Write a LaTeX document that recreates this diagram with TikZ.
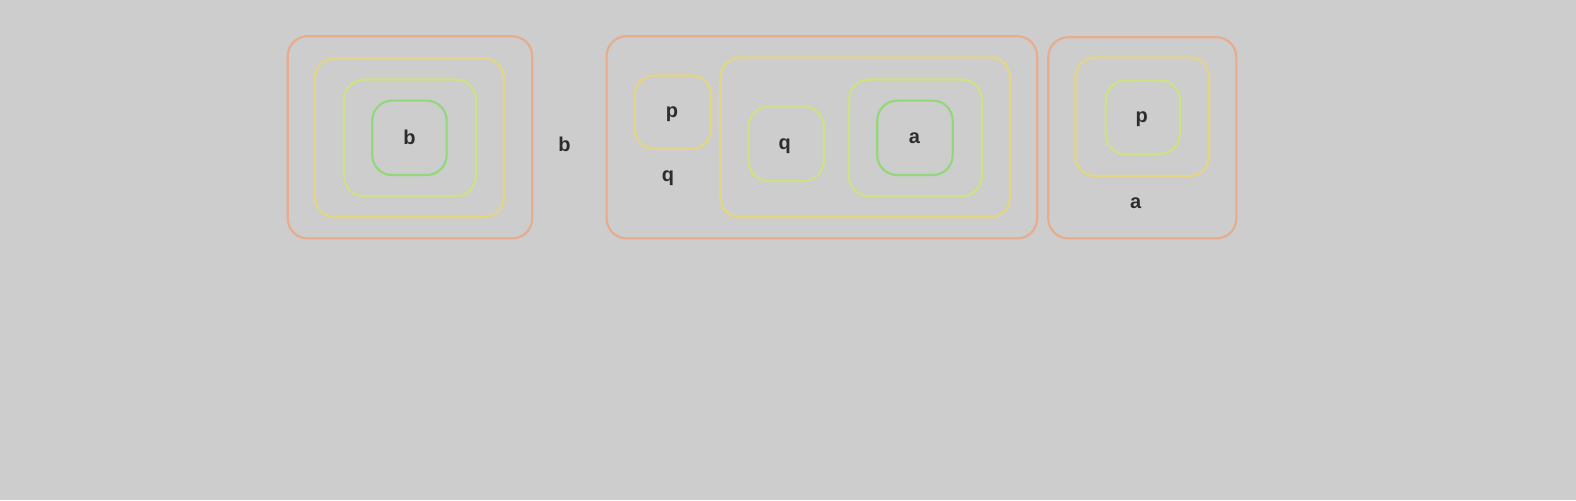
\documentclass[tikz,border=0pt]{standalone}
\usepackage{fontspec}
\setmainfont{Liberation Sans}
\usetikzlibrary{fit}
\definecolor{bgray}{RGB}{205,205,205}
\definecolor{lvla}{RGB}{230,172,140}
\definecolor{lvlb}{RGB}{226,214,132}
\definecolor{lvlc}{RGB}{204,226,132}
\definecolor{lvld}{RGB}{146,216,120}
\definecolor{ink}{RGB}{45,45,45}
\tikzset{
  box/.style={draw=#1, line width=1.6pt, rounded corners=15pt, inner sep=0pt},
  lbl/.style={text=ink, font=\bfseries\fontsize{15}{15}\selectfont, inner sep=0pt}
}
\begin{document}
\begin{tikzpicture}[x=0.7545pt, y=-0.7545pt]
            \fill[bgray] (0pt,0pt) rectangle (1182pt,-375pt);
            \useasboundingbox (0pt,0pt) rectangle (1182pt,-375pt);

            % first group
            \node[box=lvla, fit={(286,36) (529,237)}] (ba1) {};
            \node[box=lvlb, fit={(313,58) (501,216)}] (bb1) {};
            \node[box=lvlc, fit={(342,79) (473,195)}] (bc1) {};
            \node[box=lvld, fit={(370,100) (444,174)}] (bd1) {};
            \node[lbl] (b1) at (407,137) {b};

            \node[lbl] (b2) at (561,143) {b};

            % second group
            \node[box=lvla, fit={(603,36) (1031,237)}] (ba2) {};
            \node[box=lvlb, fit={(631,75) (707,148)}] (bp2) {};
            \node[lbl] (p2) at (668,113) {p};
            \node[lbl] (q2) at (664,177) {q};
            \node[box=lvlb, fit={(716,57) (1004,216)}] (bb2) {};
            \node[box=lvlc, fit={(744,106) (819,180)}] (bq2) {};
            \node[lbl] (q3) at (780,145) {q};
            \node[box=lvlc, fit={(844,79) (976,195)}] (bc2) {};
            \node[box=lvld, fit={(872,100) (947,174)}] (bd2) {};
            \node[lbl] (a2) at (909,137) {a};

            % third group
            \node[box=lvla, fit={(1042,37) (1229,237)}] (ba3) {};
            \node[box=lvlb, fit={(1069,57) (1202,175)}] (bb3) {};
            \node[box=lvlc, fit={(1099,80) (1173,153)}] (bc3) {};
            \node[lbl] (p3) at (1135,118) {p};
            \node[lbl] (a3) at (1129,202) {a};
\end{tikzpicture}
\end{document}
